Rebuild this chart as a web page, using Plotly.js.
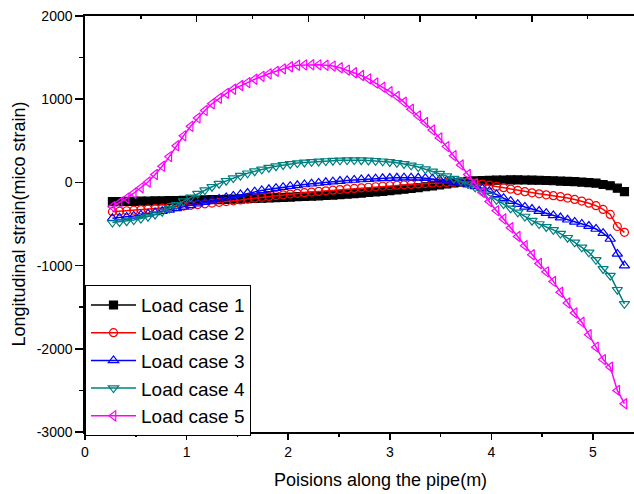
<!DOCTYPE html>
<html>
<head>
<meta charset="utf-8">
<script src="https://cdn.plot.ly/plotly-3.0.1.min.js"></script>
<style>html,body{margin:0;padding:0;background:#fff;overflow:hidden;}#chart{width:634px;height:494px;}</style>
</head>
<body>
<div id="chart"></div>
<script>
const positions = [0.27,0.34,0.41,0.48,0.55,0.62,0.69,0.76,0.83,0.90,0.97,1.04,1.11,1.18,1.25,1.32,1.39,1.46,1.53,1.60,1.67,1.74,1.81,1.88,1.95,2.02,2.09,2.16,2.23,2.30,2.37,2.44,2.51,2.58,2.65,2.72,2.79,2.86,2.93,3.00,3.07,3.14,3.21,3.28,3.35,3.42,3.49,3.56,3.63,3.70,3.77,3.84,3.91,3.98,4.05,4.12,4.19,4.26,4.33,4.40,4.47,4.54,4.61,4.68,4.75,4.82,4.89,4.96,5.03,5.10,5.17,5.24,5.31];

const loadCase1 = [-232,-230,-229,-228,-226,-225,-223,-222,-220,-218,-216,-214,-212,-210,-208,-206,-204,-201,-199,-196,-193,-190,-187,-184,-180,-176,-172,-169,-165,-161,-157,-152,-146,-140,-134,-128,-121,-114,-107,-100,-91,-82,-73,-63,-52,-42,-30,-18,-6,4,12,18,22,25,27,29,30,30,29,28,26,23,20,16,13,9,4,-2,-9,-25,-40,-70,-112];

const loadCase2 = [-352,-347,-341,-335,-329,-322,-316,-308,-300,-292,-284,-275,-267,-258,-249,-240,-231,-221,-211,-200,-190,-179,-168,-158,-149,-140,-131,-123,-116,-108,-101,-93,-86,-79,-72,-65,-58,-52,-46,-40,-34,-29,-24,-18,-13,-8,-4,0,3,4,0,-8,-20,-33,-48,-64,-80,-96,-111,-125,-137,-149,-160,-172,-188,-205,-225,-250,-280,-325,-385,-530,-600];

const loadCase3 = [-432,-425,-415,-403,-391,-378,-362,-347,-330,-312,-294,-275,-256,-237,-218,-199,-180,-162,-145,-128,-112,-97,-83,-70,-57,-46,-35,-25,-16,-7,1,9,16,23,29,35,40,45,49,52,55,57,57,55,51,44,34,21,6,-9,-27,-47,-72,-105,-145,-190,-225,-262,-295,-320,-345,-370,-397,-423,-449,-475,-500,-525,-560,-610,-680,-860,-1000];

const loadCase4 = [-482,-475,-466,-452,-435,-412,-385,-352,-315,-270,-225,-180,-135,-92,-52,-15,20,52,82,110,135,157,177,195,210,222,232,240,247,252,257,261,265,268,268,267,264,260,254,246,235,222,205,185,160,133,105,75,45,15,-20,-60,-105,-155,-210,-260,-312,-360,-410,-460,-500,-535,-570,-615,-665,-720,-780,-840,-930,-1040,-1120,-1290,-1460];

const loadCase5 = [-292,-245,-190,-130,-65,5,95,195,310,440,560,675,775,865,945,1010,1070,1120,1165,1200,1240,1275,1305,1335,1365,1390,1408,1412,1414,1413,1408,1398,1378,1350,1318,1285,1245,1195,1145,1090,1034,965,880,800,720,630,535,430,320,210,95,-15,-120,-230,-340,-440,-545,-650,-760,-870,-975,-1075,-1190,-1320,-1450,-1570,-1680,-1830,-1980,-2130,-2220,-2500,-2660];

const seriesNames = ["Load case 1","Load case 2","Load case 3","Load case 4","Load case 5"];
const yTickVals = [-3000,-2000,-1000,0,1000,2000];
const xTickVals = [0,1,2,3,4,5];

const seriesData = [loadCase1, loadCase2, loadCase3, loadCase4, loadCase5];
const colors = ["#000000","#ff0000","#0000ff","#008080","#ff00ff"];
const symbols = ["square","circle-open","triangle-up-open","triangle-down-open","triangle-left-open"];
const sizes = [8,8,9,9,9];

const FONT = "Liberation Sans, Arial, sans-serif";

const traces = seriesData.map((ys, i) => ({
  type: "scatter",
  mode: "lines+markers",
  name: seriesNames[i],
  x: positions,
  y: ys,
  line: {color: colors[i], width: 1.5},
  marker: {symbol: symbols[i], size: sizes[i], color: colors[i], line: {color: colors[i], width: 1.2}},
  cliponaxis: true
}));
// empty trace so the top (mirror) axis is drawn
traces.push({type: "scatter", x: [], y: [], xaxis: "x2", yaxis: "y", showlegend: false, hoverinfo: "skip"});

const layout = {
  width: 634,
  height: 494,
  margin: {l: 85, r: 0, t: 16, b: 62, pad: 0},
  paper_bgcolor: "#ffffff",
  plot_bgcolor: "#ffffff",
  font: {family: FONT, color: "#000000", size: 14},
  showlegend: true,
  legend: {
    x: 0, y: 0.353, xanchor: "left", yanchor: "top",
    bgcolor: "#ffffff", bordercolor: "#000000", borderwidth: 1,
    font: {family: FONT, size: 19, color: "#000000"},
    itemwidth: 45,
    tracegroupgap: 0
  },
  xaxis: {
    range: [0, 5.404],
    tickvals: xTickVals,
    ticktext: xTickVals.map(String),
    ticks: "outside", ticklen: 6, tickwidth: 1.5, tickcolor: "#000",
    minor: {dtick: 0.5, ticks: "outside", ticklen: 3, tickwidth: 1.5, tickcolor: "#000", showgrid: false},
    showline: true, linecolor: "#000", linewidth: 1.7,
    showgrid: false, zeroline: false,
    tickfont: {family: FONT, size: 14, color: "#000"},
    title: {text: ""}
  },
  xaxis2: {
    overlaying: "x", side: "top", anchor: "y",
    range: [0, 4.915],
    dtick: 1, ticks: "inside", ticklen: 6, tickwidth: 1.5, tickcolor: "#000",
    minor: {dtick: 0.5, ticks: "inside", ticklen: 3, tickwidth: 1.5, tickcolor: "#000", showgrid: false},
    showticklabels: false,
    showline: true, linecolor: "#000", linewidth: 1.7,
    showgrid: false, zeroline: false
  },
  yaxis: {
    range: [-3000, 2000],
    tickvals: yTickVals,
    ticktext: yTickVals.map(v => v < 0 ? "-" + Math.abs(v) : String(v)),
    ticks: "outside", ticklen: 8, tickwidth: 1.5, tickcolor: "#000",
    minor: {dtick: 500, ticks: "outside", ticklen: 4, tickwidth: 1.5, tickcolor: "#000", showgrid: false},
    showline: true, linecolor: "#000", linewidth: 1.7,
    showgrid: false, zeroline: false,
    tickfont: {family: FONT, size: 14, color: "#000"},
    title: {text: "Longitudinal strain(mico strain)", font: {family: FONT, size: 18, color: "#000"}, standoff: 6}
  },
  annotations: [{
    text: "Poisions along the pipe(m)",
    xref: "paper", yref: "paper",
    x: (380 - 85) / 549, y: 0,
    xanchor: "center", yanchor: "top",
    yshift: -36,
    showarrow: false,
    font: {family: FONT, size: 18, color: "#000"}
  }]
};

Plotly.newPlot("chart", traces, layout, {displayModeBar: false, staticPlot: true});
</script>
</body>
</html>
